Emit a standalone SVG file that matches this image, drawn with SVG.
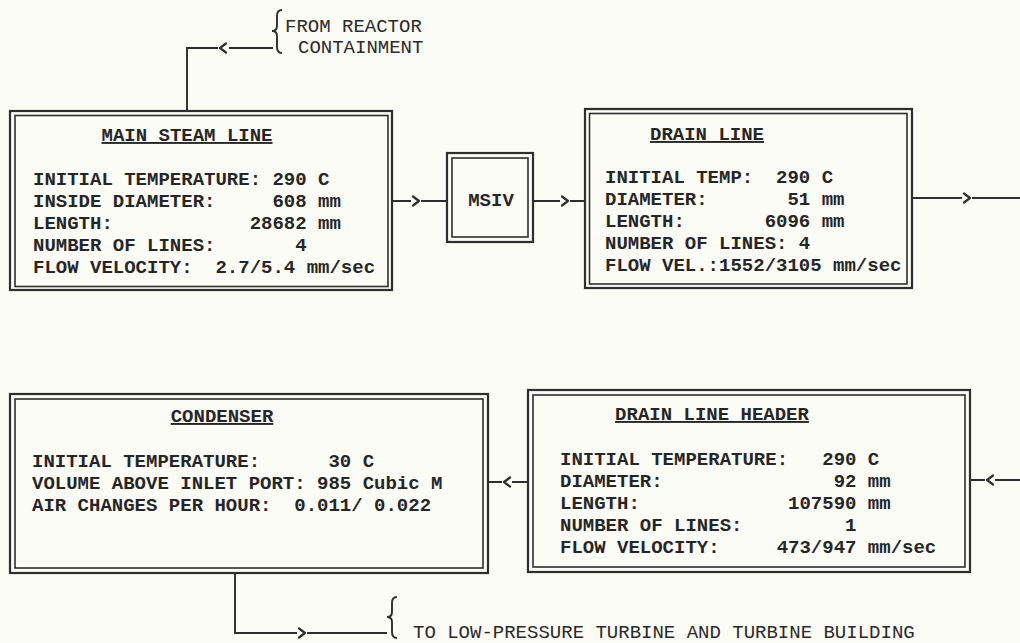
<svg xmlns="http://www.w3.org/2000/svg" width="1020" height="643" viewBox="0 0 1020 643">
<style>
text{font-family:"Liberation Mono","Courier New",monospace;font-size:19px;font-weight:bold;fill:#262626;}
.ann{font-weight:normal;fill:#2a2a2a;}
.title{text-anchor:middle;text-decoration:underline;}
.mid{text-anchor:middle;}
.ob{fill:none;stroke:#2e2e2e;stroke-width:2.2;}
.ib{fill:none;stroke:#2e2e2e;stroke-width:1.6;}
.ln{fill:none;stroke:#2e2e2e;stroke-width:1.9;}
.ch{fill:none;stroke:#2e2e2e;stroke-width:2.2;stroke-linecap:round;stroke-linejoin:round;}
</style>
<defs>
<polyline id="chr" class="ch" points="-3,-4.5 3,0 -3,4.5"/>
<polyline id="chl" class="ch" points="3,-4.5 -3,0 3,4.5"/>
</defs>
<rect width="1020" height="643" fill="#fcfcf6"/>

<g id="connectors">
  <!-- from reactor containment -->
  <path class="ln" d="M187,111 V48 H218 M229,48 H273"/>
  <use href="#chl" x="223" y="48"/>
  <path class="ln" d="M282,10 Q277,10 277,16 V26 Q277,31 272,31 Q277,31 277,36 V47 Q277,53 282,53"/>
  <!-- main steam to MSIV -->
  <path class="ln" d="M392,201 H411 M421,201 H447"/>
  <use href="#chr" x="416" y="201"/>
  <!-- MSIV to drain line -->
  <path class="ln" d="M533,201 H560 M570,201 H585"/>
  <use href="#chr" x="565" y="201"/>
  <!-- drain line out -->
  <path class="ln" d="M912,198 H962 M972,198 H1020"/>
  <use href="#chr" x="967" y="198"/>
  <!-- into drain line header -->
  <path class="ln" d="M1020,480 H995 M985,480 H970"/>
  <use href="#chl" x="990" y="480"/>
  <!-- header to condenser -->
  <path class="ln" d="M528,482 H512 M502,482 H488"/>
  <use href="#chl" x="507" y="482"/>
  <!-- condenser out -->
  <path class="ln" d="M235,573 V633 H297 M307,633 H387"/>
  <use href="#chr" x="302" y="633"/>
  <path class="ln" d="M397,597 Q392,597 392,603 V612 Q392,617 387,617 Q392,617 392,622 V632 Q392,638 397,638"/>
</g>

<g id="annot-top">
  <text class="ann" x="285" y="32">FROM REACTOR</text>
  <text class="ann" x="298" y="53">CONTAINMENT</text>
</g>
<g id="annot-bottom">
  <text class="ann" x="413" y="638">TO LOW-PRESSURE TURBINE AND TURBINE BUILDING</text>
</g>

<g id="main-steam-line">
  <rect class="ob" x="10" y="111" width="382" height="179"/>
  <rect class="ib" x="15" y="115.5" width="373" height="171"/>
  <text class="title" x="187" y="141">MAIN STEAM LINE</text>
  <text x="33" y="185" xml:space="preserve">INITIAL TEMPERATURE: 290 C</text>
  <text x="33" y="207" xml:space="preserve">INSIDE DIAMETER:     608 mm</text>
  <text x="33" y="229" xml:space="preserve">LENGTH:            28682 mm</text>
  <text x="33" y="251" xml:space="preserve">NUMBER OF LINES:       4</text>
  <text x="33" y="273" xml:space="preserve">FLOW VELOCITY:  2.7/5.4 mm/sec</text>
</g>

<g id="msiv">
  <rect class="ob" x="447" y="153" width="86" height="89"/>
  <rect class="ib" x="452" y="158" width="76" height="79"/>
  <text class="mid" x="491" y="206">MSIV</text>
</g>

<g id="drain-line">
  <rect class="ob" x="585" y="109" width="327" height="179"/>
  <rect class="ib" x="589.5" y="113.5" width="317.5" height="170.5"/>
  <text class="title" x="707" y="140">DRAIN LINE</text>
  <text x="605" y="183" xml:space="preserve">INITIAL TEMP:  290 C</text>
  <text x="605" y="205" xml:space="preserve">DIAMETER:       51 mm</text>
  <text x="605" y="227" xml:space="preserve">LENGTH:       6096 mm</text>
  <text x="605" y="249" xml:space="preserve">NUMBER OF LINES: 4</text>
  <text x="605" y="271" xml:space="preserve">FLOW VEL.:1552/3105 mm/sec</text>
</g>

<g id="condenser">
  <rect class="ob" x="10" y="394" width="478" height="179"/>
  <rect class="ib" x="15" y="399" width="468" height="169"/>
  <text class="title" x="222" y="422">CONDENSER</text>
  <text x="32" y="467" xml:space="preserve">INITIAL TEMPERATURE:      30 C</text>
  <text x="32" y="489" xml:space="preserve">VOLUME ABOVE INLET PORT: 985 Cubic M</text>
  <text x="32" y="511" xml:space="preserve">AIR CHANGES PER HOUR:  0.011/ 0.022</text>
</g>

<g id="drain-line-header">
  <rect class="ob" x="528" y="390" width="442" height="182"/>
  <rect class="ib" x="533" y="395" width="432" height="172"/>
  <text class="title" x="712" y="420">DRAIN LINE HEADER</text>
  <text x="560" y="465" xml:space="preserve">INITIAL TEMPERATURE:   290 C</text>
  <text x="560" y="487" xml:space="preserve">DIAMETER:               92 mm</text>
  <text x="560" y="509" xml:space="preserve">LENGTH:             107590 mm</text>
  <text x="560" y="531" xml:space="preserve">NUMBER OF LINES:         1</text>
  <text x="560" y="553" xml:space="preserve">FLOW VELOCITY:     473/947 mm/sec</text>
</g>
</svg>
